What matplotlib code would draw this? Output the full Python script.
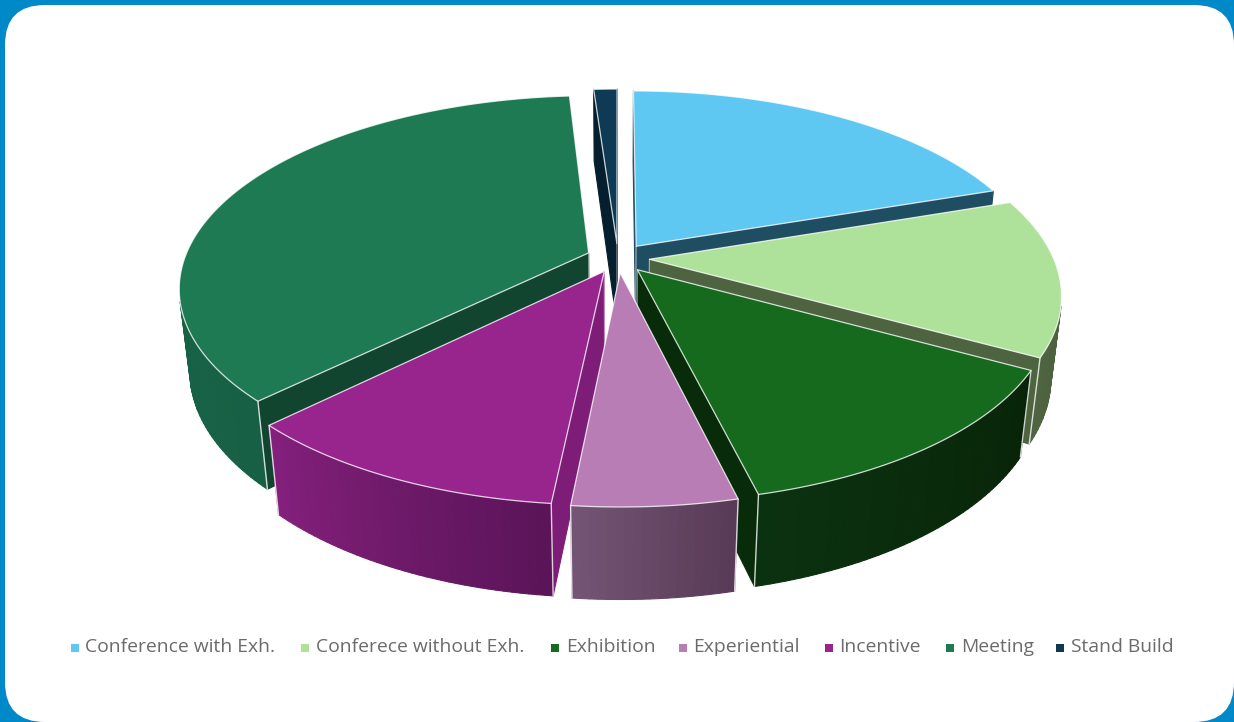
import itertools

import numpy as np
import matplotlib
matplotlib.use('Agg')
import matplotlib.pyplot as plt
from matplotlib.colors import to_rgb
from matplotlib.patches import FancyBboxPatch, Polygon

categories = ['Conference with Exh.', 'Conferece without Exh.', 'Exhibition',
              'Experiential', 'Incentive', 'Meeting', 'Stand Build']
shares = [19.8, 13.2, 13.2, 5.4, 11.0, 36.3, 1.1]

top_colors = ['#5EC8F2', '#AEE29A', '#156A1E', '#B87DB4', '#98248E', '#1E7A52', '#0F3A55']
cut_colors = ['#1F4E63', '#4E6340', '#082C0A', '#5F4560', '#7E1D78', '#12452F', '#061F2E']
wall_left = ['#1F4E63', '#4E6340', '#0B3210', '#745575', '#84207C', '#17694B', '#0A2A3E']
wall_right = ['#1F4E63', '#4A5E3C', '#082408', '#573A55', '#5A1458', '#176045', '#0A2A3E']

# back to front, so nearer slices cover the ones behind them
draw_order = [6, 5, 0, 1, 4, 2, 3]

legend_marker_x = [70, 300, 550, 678, 824, 945, 1055]
legend_text_x = [85, 316, 566, 693, 839, 961, 1071]

CX, CY = 618, 258
F, G = 404, 186.8
PERSP = 0.1776
DROP, SHRINK = 83, 0.024
EXPLODE = 0.078
RIM_WHITE = (1, 1, 1, 0.8)


def project(x, y, bottom=False):
    w = 1 + PERSP * y
    drop = 0
    if bottom:
        w += SHRINK
        drop = DROP
    return CX + F * x / w, CY - (G * y - drop) / w


def signed_area(pts):
    xs, ys = np.array(pts).T
    return 0.5 * np.sum(xs * np.roll(ys, -1) - np.roll(xs, -1) * ys)


fig = plt.figure(figsize=(12.34, 7.22), dpi=100, facecolor='#0089C9')
ax = fig.add_axes([0, 0, 1, 1])
ax.set_xlim(0, 1234)
ax.set_ylim(722, 0)
ax.axis('off')

ax.add_patch(FancyBboxPatch((45, 45), 1149, 637, boxstyle='round,pad=40,rounding_size=40',
                            facecolor='white', edgecolor='none', zorder=0))

z = itertools.count(1)


def face(pts, color, edge=None, lw=0.8):
    ax.add_patch(Polygon(pts, closed=True, facecolor=color, edgecolor=edge or color,
                         linewidth=lw, joinstyle='round', zorder=next(z)))


def line(pts, lw=1.0, alpha=0.8):
    xs, ys = zip(*pts)
    ax.plot(xs, ys, color='white', lw=lw, alpha=alpha, zorder=next(z), solid_capstyle='round')


bounds = np.cumsum([0] + shares) / sum(shares) * 2 * np.pi

for i in draw_order:
    start, end = bounds[i], bounds[i + 1]
    mid = (start + end) / 2
    ox, oy = EXPLODE * np.sin(mid), EXPLODE * np.cos(mid)
    arc = np.linspace(start, end, max(6, int((end - start) * 60)))
    rx, ry = ox + np.sin(arc), oy + np.cos(arc)

    top = [project(ox, oy)] + [project(a, b) for a, b in zip(rx, ry)]
    under = [project(ox, oy, True)] + [project(a, b, True) for a, b in zip(rx, ry)]

    # the two cut faces, hidden when they turn away from the viewer
    apex_t, apex_b = top[0], under[0]
    start_face = [apex_t, top[1], under[1], apex_b]
    end_face = [top[-1], apex_t, apex_b, under[-1]]
    if signed_area(start_face) < 0:
        face(start_face, cut_colors[i])
        line([apex_t, apex_b], lw=0.8, alpha=0.5)
    if signed_area(end_face) < 0:
        face(end_face, cut_colors[i])
        line([apex_t, apex_b], lw=0.8, alpha=0.5)

    # rim wall as narrow strips, shaded from one end to the other
    c0 = np.array(to_rgb(wall_left[i]))
    c1 = np.array(to_rgb(wall_right[i]))
    n = len(arc) - 1
    visible = []
    for j in range(n):
        strip = [top[j + 1], top[j + 2], under[j + 2], under[j + 1]]
        if signed_area(strip) < 0:
            frac = (j + 0.5) / n
            face(strip, tuple(c1 + (c0 - c1) * frac))
            visible.append(j)

    # white corner lines only where the wall meets a cut, not at the curved silhouette
    if visible and visible[0] == 0:
        line([top[1], under[1]])
    if visible and visible[-1] == n - 1:
        line([top[-1], under[-1]])

    face(top, top_colors[i], edge=RIM_WHITE, lw=0.9)

for i, name in enumerate(categories):
    ax.plot(legend_marker_x[i] + 4.5, 648, 's', ms=6.2, color=top_colors[i], mew=0, zorder=next(z))
    ax.text(legend_text_x[i], 647, name, fontsize=13.9, color='#6B6B6B', family='Open Sans',
            ha='left', va='center', zorder=next(z))

fig.savefig('out.png', dpi=100, facecolor=fig.get_facecolor())
